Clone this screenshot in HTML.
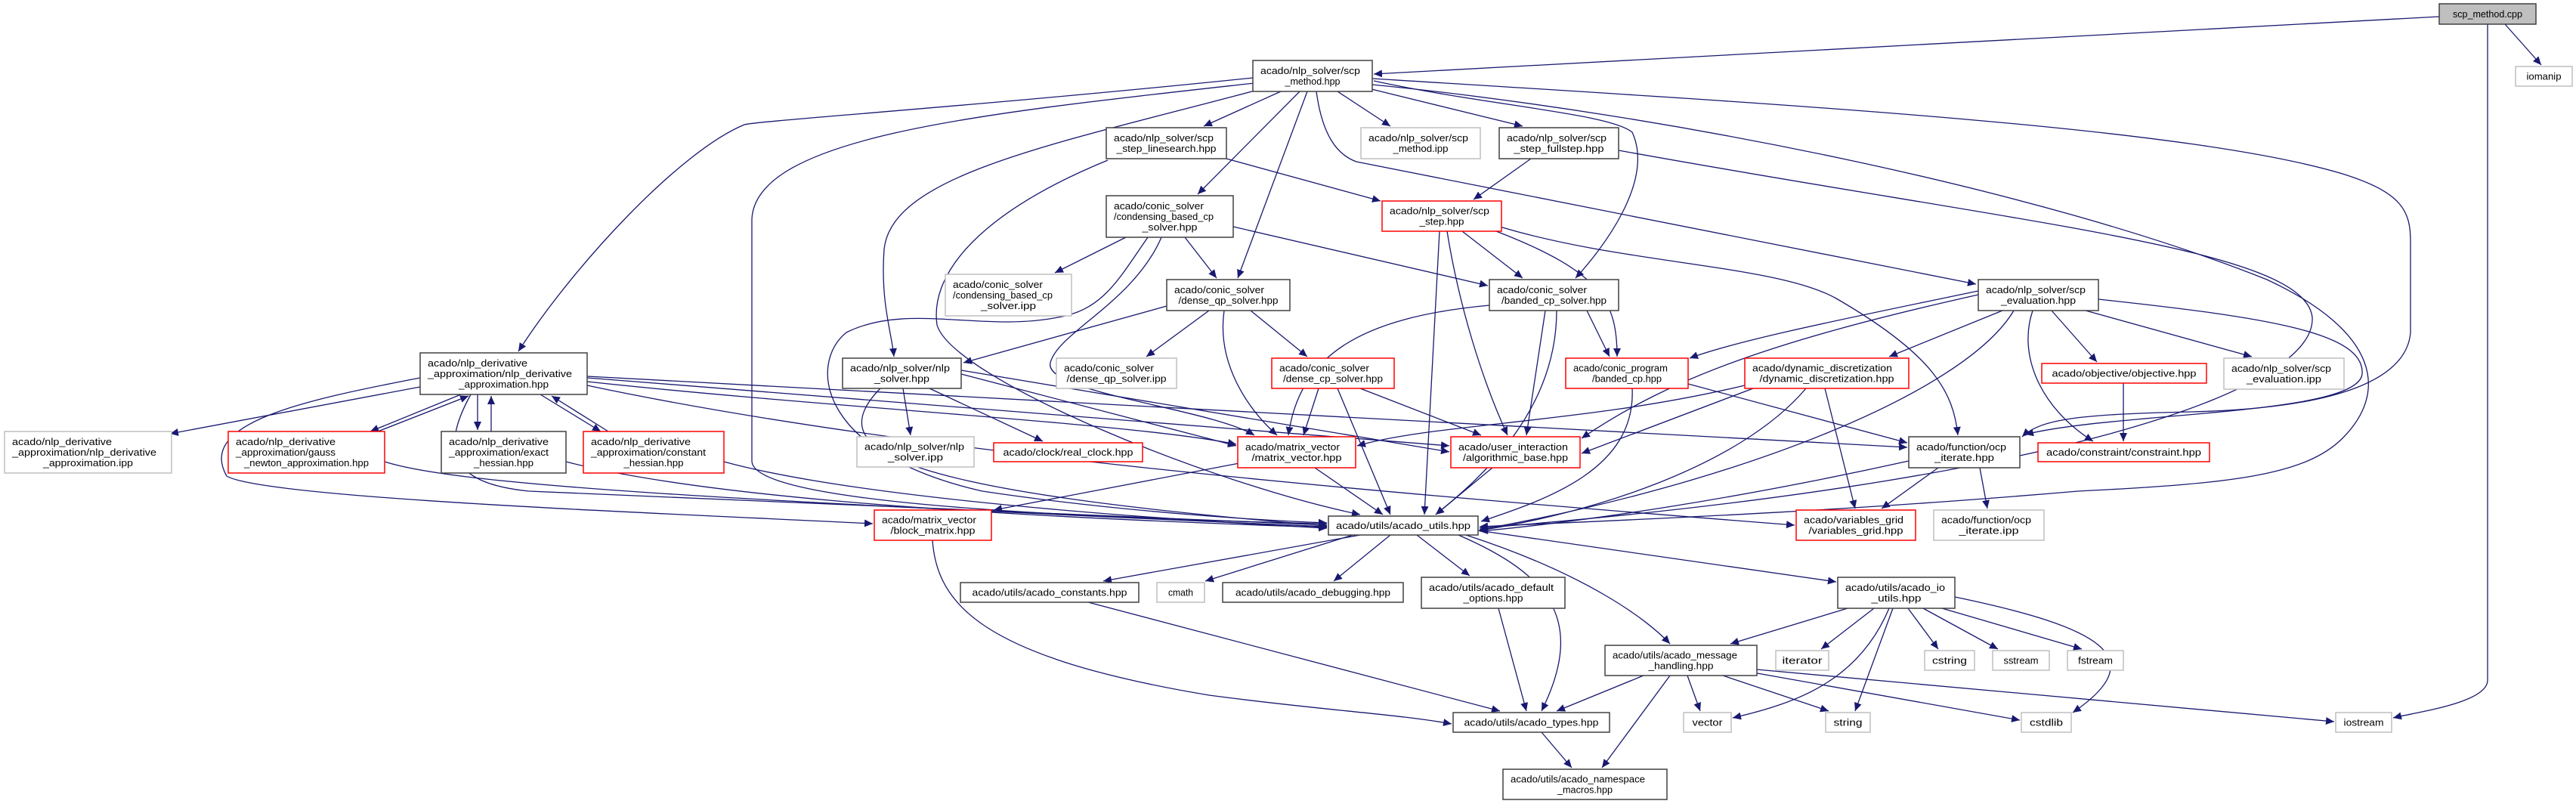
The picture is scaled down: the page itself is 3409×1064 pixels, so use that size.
<!DOCTYPE html>
<html><head><meta charset="utf-8"><style>
html,body{margin:0;padding:0;background:#fff;}
svg{display:block;}
text{font-family:"Liberation Sans",sans-serif;font-size:13px;fill:#000;}
.n{fill:#fff;stroke:#404040;stroke-width:1.5;}
.r{fill:#fff;stroke:#ff0000;stroke-width:1.5;}
.g{fill:#fff;stroke:#bfbfbf;stroke-width:1.5;}
.e{fill:none;stroke:#191970;stroke-width:1.3;}
</style></head><body>
<svg width="3409" height="1064" viewBox="0 0 3409 1064" xmlns="http://www.w3.org/2000/svg">
<defs><marker id="a" markerWidth="12" markerHeight="10" refX="11" refY="5" orient="auto" markerUnits="userSpaceOnUse"><path d="M0,0 L11,5 L0,10 z" fill="#191970"/></marker></defs>
<g marker-end="url(#a)">
<path class="e" d="M3228,22 L1818,98"/>
<path class="e" d="M3315,32 L3363,86"/>
<path class="e" d="M3292,32 L3292,900 C3292,930 3200,942 3167,950"/>
<path class="e" d="M1695,121 L1593,167"/>
<path class="e" d="M1770,121 L1840,167"/>
<path class="e" d="M1815,118 L2015,167"/>
<path class="e" d="M1720,121 L1585,257"/>
<path class="e" d="M1730,121 L1638,368"/>
<path class="e" d="M1818,107 C1970,140 2130,150 2160,175 C2190,240 2120,330 2085,368"/>
<path class="e" d="M1742,121 C1750,180 1770,205 1795,214 L2615,376"/>
<path class="e" d="M1658,103 C1300,140 1000,160 985,165 C900,200 760,350 686,465"/>
<path class="e" d="M1660,110 C1300,150 1000,180 995,290 L995,610 C995,650 1200,680 1756,693"/>
<path class="e" d="M1668,118 C1400,190 1180,230 1170,330 C1165,400 1180,440 1183,472"/>
<path class="e" d="M1816,104 C2400,140 2900,170 3100,230 C3180,255 3190,280 3190,320 L3190,440 C3185,500 3100,540 2900,545 C2750,548 2700,555 2676,578"/>
<path class="e" d="M2777,396 C3000,420 3130,440 3126,495 C3120,550 2800,545 2680,575"/>
<path class="e" d="M1816,112 C2200,150 2700,250 3000,370 C3150,440 3160,520 3100,580 C3050,630 2950,640 2750,650 C2400,680 2100,690 1958,697"/>
<path class="e" d="M2026,210 L1950,264"/>
<path class="e" d="M2142,199 C2700,300 3050,330 3060,420 C3065,520 2700,640 1958,699"/>
<path class="e" d="M1623,210 L1827,266"/>
<path class="e" d="M1466,212 C1300,280 1230,360 1240,430 C1260,500 1600,640 1800,681"/>
<path class="e" d="M1490,314 L1396,361"/>
<path class="e" d="M1568,314 L1610,368"/>
<path class="e" d="M1632,300 L1969,378"/>
<path class="e" d="M1537,314 C1500,400 1400,440 1390,480 C1380,520 1600,540 1660,576"/>
<path class="e" d="M1519,314 C1480,370 1460,410 1400,420 C1300,440 1200,400 1120,440 C1070,480 1080,600 1300,650 C1500,680 1700,690 1756,692"/>
<path class="e" d="M1935,306 L2015,368"/>
<path class="e" d="M1980,306 C2120,360 2140,400 2140,472"/>
<path class="e" d="M1985,300 C2150,350 2350,350 2430,395 C2560,470 2585,520 2591,576"/>
<path class="e" d="M1905,306 L1885,681"/>
<path class="e" d="M1915,306 C1930,400 1960,500 1995,576"/>
<path class="e" d="M1600,411 L1517,472"/>
<path class="e" d="M1655,411 L1730,472"/>
<path class="e" d="M1620,411 C1610,480 1650,540 1690,576"/>
<path class="e" d="M1544,405 L1275,480"/>
<path class="e" d="M1971,404 C1800,420 1720,470 1705,576"/>
<path class="e" d="M2045,411 L2020,576"/>
<path class="e" d="M2060,411 C2060,550 1950,640 1900,681"/>
<path class="e" d="M2100,411 L2130,472"/>
<path class="e" d="M2618,385 C2450,420 2300,450 2236,474"/>
<path class="e" d="M2650,411 L2500,472"/>
<path class="e" d="M2715,411 L2775,479"/>
<path class="e" d="M2760,411 L2980,472"/>
<path class="e" d="M2690,411 C2670,470 2700,540 2770,584"/>
<path class="e" d="M2665,411 C2600,520 2300,640 1958,701"/>
<path class="e" d="M2618,390 C2350,450 2210,500 2093,580"/>
<path class="e" d="M1745,514 L1725,576"/>
<path class="e" d="M1770,514 L1840,681"/>
<path class="e" d="M1800,514 L1960,576"/>
<path class="e" d="M2234,508 L2524,586"/>
<path class="e" d="M2160,514 C2165,620 2050,660 1960,690"/>
<path class="e" d="M2309,510 C2100,560 1900,560 1796,590"/>
<path class="e" d="M2320,514 L2093,600"/>
<path class="e" d="M2415,514 L2455,673"/>
<path class="e" d="M2390,514 C2300,620 2100,680 1958,702"/>
<path class="e" d="M2810,507 L2810,584"/>
<path class="e" d="M2565,619 L2490,673"/>
<path class="e" d="M2620,619 L2630,673"/>
<path class="e" d="M2526,610 C2300,660 2100,690 1958,703"/>
<path class="e" d="M556,512 L225,574"/>
<path class="e" d="M610,522 L490,571"/>
<path class="e" d="M500,571 L620,524"/>
<path class="e" d="M632,522 L632,569"/>
<path class="e" d="M650,571 L650,524"/>
<path class="e" d="M715,522 L795,571"/>
<path class="e" d="M805,571 L730,524"/>
<path class="e" d="M777,505 C1100,540 1500,560 1636,588"/>
<path class="e" d="M777,500 L1918,590"/>
<path class="e" d="M777,498 L2524,592"/>
<path class="e" d="M623,522 C580,600 600,640 700,650 L1756,695"/>
<path class="e" d="M556,500 C400,530 260,560 300,630 C350,660 900,680 1155,693"/>
<path class="e" d="M777,510 C1200,600 1800,650 2375,695"/>
<path class="e" d="M509,611 C600,640 900,660 1756,697"/>
<path class="e" d="M749,611 C900,650 1200,680 1756,698"/>
<path class="e" d="M958,611 C1100,650 1400,680 1756,699"/>
<path class="e" d="M1195,514 L1205,576"/>
<path class="e" d="M1230,514 L1380,584"/>
<path class="e" d="M1272,495 L1636,590"/>
<path class="e" d="M1272,490 L1918,598"/>
<path class="e" d="M1165,514 C1080,600 1200,650 1756,696"/>
<path class="e" d="M1640,613 L1315,675"/>
<path class="e" d="M1740,619 L1830,681"/>
<path class="e" d="M1975,619 L1900,681"/>
<path class="e" d="M1234,715 C1240,800 1300,870 1600,920 C1750,940 1850,945 1921,958"/>
<path class="e" d="M1800,708 L1460,769"/>
<path class="e" d="M1790,708 L1595,769"/>
<path class="e" d="M1840,708 L1765,769"/>
<path class="e" d="M1875,708 L1945,762"/>
<path class="e" d="M1930,708 C2050,760 2100,820 2040,941"/>
<path class="e" d="M1940,708 C2100,760 2180,820 2210,852"/>
<path class="e" d="M1956,702 L2430,770"/>
<path class="e" d="M1440,797 L1985,941"/>
<path class="e" d="M1983,805 L2020,941"/>
<path class="e" d="M2175,894 L2060,941"/>
<path class="e" d="M2210,894 L2120,1016"/>
<path class="e" d="M2040,969 L2080,1016"/>
<path class="e" d="M2233,894 L2250,941"/>
<path class="e" d="M2280,894 L2420,941"/>
<path class="e" d="M2320,890 L2673,953"/>
<path class="e" d="M2325,886 L3089,955"/>
<path class="e" d="M2445,805 L2290,852"/>
<path class="e" d="M2480,805 L2410,859"/>
<path class="e" d="M2500,805 C2460,900 2380,930 2293,950"/>
<path class="e" d="M2505,805 L2455,941"/>
<path class="e" d="M2525,805 L2565,859"/>
<path class="e" d="M2545,805 L2644,859"/>
<path class="e" d="M2570,805 L2755,859"/>
<path class="e" d="M2587,790 C2780,830 2850,870 2743,943"/>
</g>
<g lengthAdjust="spacingAndGlyphs">
<rect x="3228" y="5" width="128" height="27" style="fill:#bfbfbf;stroke:#404040;stroke-width:1.5"/>
<text x="3292" y="23" text-anchor="middle" textLength="92" lengthAdjust="spacingAndGlyphs">scp_method.cpp</text>
<rect class="g" x="3329" y="88" width="75" height="26"/>
<text x="3366.5" y="105.5" text-anchor="middle" textLength="46" lengthAdjust="spacingAndGlyphs">iomanip</text>

<rect class="n" x="1658" y="80" width="158" height="41"/>
<text x="1668" y="98" textLength="132" lengthAdjust="spacingAndGlyphs">acado/nlp_solver/scp</text>
<text x="1737" y="112" text-anchor="middle" textLength="73" lengthAdjust="spacingAndGlyphs">_method.hpp</text>

<rect class="n" x="1464" y="169" width="159" height="41"/>
<text x="1474" y="187" textLength="132" lengthAdjust="spacingAndGlyphs">acado/nlp_solver/scp</text>
<text x="1543.5" y="201" text-anchor="middle" textLength="132" lengthAdjust="spacingAndGlyphs">_step_linesearch.hpp</text>

<rect class="g" x="1801" y="169" width="158" height="41"/>
<text x="1811" y="187" textLength="132" lengthAdjust="spacingAndGlyphs">acado/nlp_solver/scp</text>
<text x="1880" y="201" text-anchor="middle" textLength="73" lengthAdjust="spacingAndGlyphs">_method.ipp</text>

<rect class="n" x="1984" y="169" width="158" height="41"/>
<text x="1994" y="187" textLength="132" lengthAdjust="spacingAndGlyphs">acado/nlp_solver/scp</text>
<text x="2063" y="201" text-anchor="middle" textLength="119" lengthAdjust="spacingAndGlyphs">_step_fullstep.hpp</text>

<rect class="n" x="1464" y="259" width="168" height="55"/>
<text x="1474" y="277" textLength="119" lengthAdjust="spacingAndGlyphs">acado/conic_solver</text>
<text x="1474" y="291" textLength="132" lengthAdjust="spacingAndGlyphs">/condensing_based_cp</text>
<text x="1548" y="305" text-anchor="middle" textLength="73" lengthAdjust="spacingAndGlyphs">_solver.hpp</text>

<rect class="r" x="1829" y="266" width="158" height="40"/>
<text x="1839" y="283.5" textLength="132" lengthAdjust="spacingAndGlyphs">acado/nlp_solver/scp</text>
<text x="1908" y="297.5" text-anchor="middle" textLength="59" lengthAdjust="spacingAndGlyphs">_step.hpp</text>

<rect class="g" x="1251" y="363" width="167" height="55"/>
<text x="1261" y="381" textLength="119" lengthAdjust="spacingAndGlyphs">acado/conic_solver</text>
<text x="1261" y="395" textLength="132" lengthAdjust="spacingAndGlyphs">/condensing_based_cp</text>
<text x="1334.5" y="409" text-anchor="middle" textLength="73" lengthAdjust="spacingAndGlyphs">_solver.ipp</text>

<rect class="n" x="1544" y="370" width="163" height="41"/>
<text x="1554" y="388" textLength="119" lengthAdjust="spacingAndGlyphs">acado/conic_solver</text>
<text x="1625.5" y="402" text-anchor="middle" textLength="132" lengthAdjust="spacingAndGlyphs">/dense_qp_solver.hpp</text>

<rect class="n" x="1971" y="370" width="171" height="41"/>
<text x="1981" y="388" textLength="119" lengthAdjust="spacingAndGlyphs">acado/conic_solver</text>
<text x="2056.5" y="402" text-anchor="middle" textLength="139" lengthAdjust="spacingAndGlyphs">/banded_cp_solver.hpp</text>

<rect class="n" x="2618" y="370" width="159" height="41"/>
<text x="2628" y="388" textLength="132" lengthAdjust="spacingAndGlyphs">acado/nlp_solver/scp</text>
<text x="2697.5" y="402" text-anchor="middle" textLength="99" lengthAdjust="spacingAndGlyphs">_evaluation.hpp</text>

<rect class="n" x="556" y="467" width="221" height="55"/>
<text x="566" y="485" textLength="132" lengthAdjust="spacingAndGlyphs">acado/nlp_derivative</text>
<text x="566" y="499" textLength="191" lengthAdjust="spacingAndGlyphs">_approximation/nlp_derivative</text>
<text x="666.5" y="513" text-anchor="middle" textLength="119" lengthAdjust="spacingAndGlyphs">_approximation.hpp</text>

<rect class="n" x="1115" y="474" width="157" height="40"/>
<text x="1125" y="491.5" textLength="132" lengthAdjust="spacingAndGlyphs">acado/nlp_solver/nlp</text>
<text x="1193.5" y="505.5" text-anchor="middle" textLength="73" lengthAdjust="spacingAndGlyphs">_solver.hpp</text>

<rect class="g" x="1398" y="474" width="159" height="40"/>
<text x="1408" y="491.5" textLength="119" lengthAdjust="spacingAndGlyphs">acado/conic_solver</text>
<text x="1477.5" y="505.5" text-anchor="middle" textLength="132" lengthAdjust="spacingAndGlyphs">/dense_qp_solver.ipp</text>

<rect class="r" x="1683" y="474" width="162" height="40"/>
<text x="1693" y="491.5" textLength="119" lengthAdjust="spacingAndGlyphs">acado/conic_solver</text>
<text x="1764" y="505.5" text-anchor="middle" textLength="132" lengthAdjust="spacingAndGlyphs">/dense_cp_solver.hpp</text>

<rect class="r" x="2072" y="474" width="162" height="40"/>
<text x="2082" y="491.5" textLength="125" lengthAdjust="spacingAndGlyphs">acado/conic_program</text>
<text x="2153" y="505.5" text-anchor="middle" textLength="92" lengthAdjust="spacingAndGlyphs">/banded_cp.hpp</text>

<rect class="r" x="2309" y="474" width="217" height="40"/>
<text x="2319" y="491.5" textLength="185" lengthAdjust="spacingAndGlyphs">acado/dynamic_discretization</text>
<text x="2417.5" y="505.5" text-anchor="middle" textLength="178" lengthAdjust="spacingAndGlyphs">/dynamic_discretization.hpp</text>

<rect class="r" x="2702" y="481" width="218" height="26"/>
<text x="2811" y="498.5" text-anchor="middle" textLength="191" lengthAdjust="spacingAndGlyphs">acado/objective/objective.hpp</text>

<rect class="g" x="2943" y="474" width="159" height="41"/>
<text x="2953" y="492" textLength="132" lengthAdjust="spacingAndGlyphs">acado/nlp_solver/scp</text>
<text x="3022.5" y="506" text-anchor="middle" textLength="99" lengthAdjust="spacingAndGlyphs">_evaluation.ipp</text>

<rect class="g" x="6" y="571" width="221" height="55"/>
<text x="16" y="589" textLength="132" lengthAdjust="spacingAndGlyphs">acado/nlp_derivative</text>
<text x="16" y="603" textLength="191" lengthAdjust="spacingAndGlyphs">_approximation/nlp_derivative</text>
<text x="116.5" y="617" text-anchor="middle" textLength="119" lengthAdjust="spacingAndGlyphs">_approximation.ipp</text>

<rect class="r" x="302" y="571" width="207" height="55"/>
<text x="312" y="589" textLength="132" lengthAdjust="spacingAndGlyphs">acado/nlp_derivative</text>
<text x="312" y="603" textLength="132" lengthAdjust="spacingAndGlyphs">_approximation/gauss</text>
<text x="405.5" y="617" text-anchor="middle" textLength="165" lengthAdjust="spacingAndGlyphs">_newton_approximation.hpp</text>

<rect class="n" x="584" y="571" width="165" height="55"/>
<text x="594" y="589" textLength="132" lengthAdjust="spacingAndGlyphs">acado/nlp_derivative</text>
<text x="594" y="603" textLength="132" lengthAdjust="spacingAndGlyphs">_approximation/exact</text>
<text x="666.5" y="617" text-anchor="middle" textLength="79" lengthAdjust="spacingAndGlyphs">_hessian.hpp</text>

<rect class="r" x="772" y="571" width="186" height="55"/>
<text x="782" y="589" textLength="132" lengthAdjust="spacingAndGlyphs">acado/nlp_derivative</text>
<text x="782" y="603" textLength="152" lengthAdjust="spacingAndGlyphs">_approximation/constant</text>
<text x="865" y="617" text-anchor="middle" textLength="79" lengthAdjust="spacingAndGlyphs">_hessian.hpp</text>

<rect class="g" x="1134" y="578" width="155" height="40"/>
<text x="1144" y="595.5" textLength="132" lengthAdjust="spacingAndGlyphs">acado/nlp_solver/nlp</text>
<text x="1211.5" y="609.5" text-anchor="middle" textLength="73" lengthAdjust="spacingAndGlyphs">_solver.ipp</text>

<rect class="r" x="1315" y="586" width="197" height="25"/>
<text x="1413.5" y="603" text-anchor="middle" textLength="172" lengthAdjust="spacingAndGlyphs">acado/clock/real_clock.hpp</text>

<rect class="r" x="1638" y="578" width="156" height="41"/>
<text x="1648" y="596" textLength="125" lengthAdjust="spacingAndGlyphs">acado/matrix_vector</text>
<text x="1716" y="610" text-anchor="middle" textLength="119" lengthAdjust="spacingAndGlyphs">/matrix_vector.hpp</text>

<rect class="r" x="1920" y="578" width="171" height="41"/>
<text x="1930" y="596" textLength="145" lengthAdjust="spacingAndGlyphs">acado/user_interaction</text>
<text x="2005.5" y="610" text-anchor="middle" textLength="139" lengthAdjust="spacingAndGlyphs">/algorithmic_base.hpp</text>

<rect class="n" x="2526" y="578" width="147" height="41"/>
<text x="2536" y="596" textLength="119" lengthAdjust="spacingAndGlyphs">acado/function/ocp</text>
<text x="2599.5" y="610" text-anchor="middle" textLength="79" lengthAdjust="spacingAndGlyphs">_iterate.hpp</text>

<rect class="r" x="2697" y="586" width="227" height="25"/>
<text x="2810.5" y="603" text-anchor="middle" textLength="205" lengthAdjust="spacingAndGlyphs">acado/constraint/constraint.hpp</text>

<rect class="r" x="1157" y="675" width="155" height="40"/>
<text x="1167" y="692.5" textLength="125" lengthAdjust="spacingAndGlyphs">acado/matrix_vector</text>
<text x="1234.5" y="706.5" text-anchor="middle" textLength="112" lengthAdjust="spacingAndGlyphs">/block_matrix.hpp</text>

<rect class="n" x="1758" y="683" width="198" height="25"/>
<text x="1857" y="700" text-anchor="middle" textLength="178" lengthAdjust="spacingAndGlyphs">acado/utils/acado_utils.hpp</text>

<rect class="r" x="2377" y="675" width="158" height="40"/>
<text x="2387" y="692.5" textLength="132" lengthAdjust="spacingAndGlyphs">acado/variables_grid</text>
<text x="2456" y="706.5" text-anchor="middle" textLength="125" lengthAdjust="spacingAndGlyphs">/variables_grid.hpp</text>

<rect class="g" x="2559" y="675" width="146" height="40"/>
<text x="2569" y="692.5" textLength="119" lengthAdjust="spacingAndGlyphs">acado/function/ocp</text>
<text x="2632" y="706.5" text-anchor="middle" textLength="79" lengthAdjust="spacingAndGlyphs">_iterate.ipp</text>

<rect class="n" x="1271" y="771" width="236" height="26"/>
<text x="1389" y="788.5" text-anchor="middle" textLength="205" lengthAdjust="spacingAndGlyphs">acado/utils/acado_constants.hpp</text>
<rect class="g" x="1531" y="771" width="63" height="26"/>
<text x="1562.5" y="788.5" text-anchor="middle" textLength="33" lengthAdjust="spacingAndGlyphs">cmath</text>
<rect class="n" x="1618" y="771" width="239" height="26"/>
<text x="1737.5" y="788.5" text-anchor="middle" textLength="205" lengthAdjust="spacingAndGlyphs">acado/utils/acado_debugging.hpp</text>

<rect class="n" x="1881" y="764" width="190" height="41"/>
<text x="1891" y="782" textLength="165" lengthAdjust="spacingAndGlyphs">acado/utils/acado_default</text>
<text x="1976" y="796" text-anchor="middle" textLength="79" lengthAdjust="spacingAndGlyphs">_options.hpp</text>

<rect class="n" x="2432" y="764" width="155" height="41"/>
<text x="2442" y="782" textLength="132" lengthAdjust="spacingAndGlyphs">acado/utils/acado_io</text>
<text x="2509.5" y="796" text-anchor="middle" textLength="66" lengthAdjust="spacingAndGlyphs">_utils.hpp</text>

<rect class="n" x="2124" y="854" width="201" height="40"/>
<text x="2134" y="871.5" textLength="165" lengthAdjust="spacingAndGlyphs">acado/utils/acado_message</text>
<text x="2224.5" y="885.5" text-anchor="middle" textLength="86" lengthAdjust="spacingAndGlyphs">_handling.hpp</text>

<rect class="g" x="2350" y="861" width="70" height="26"/>
<text x="2385" y="878.5" text-anchor="middle" textLength="53" lengthAdjust="spacingAndGlyphs">iterator</text>
<rect class="g" x="2547" y="861" width="66" height="26"/>
<text x="2580" y="878.5" text-anchor="middle" textLength="46" lengthAdjust="spacingAndGlyphs">cstring</text>
<rect class="g" x="2637" y="861" width="75" height="26"/>
<text x="2674.5" y="878.5" text-anchor="middle" textLength="46" lengthAdjust="spacingAndGlyphs">sstream</text>
<rect class="g" x="2736" y="861" width="74" height="26"/>
<text x="2773" y="878.5" text-anchor="middle" textLength="46" lengthAdjust="spacingAndGlyphs">fstream</text>

<rect class="g" x="2228" y="943" width="63" height="26"/>
<text x="2259.5" y="960.5" text-anchor="middle" textLength="40" lengthAdjust="spacingAndGlyphs">vector</text>
<rect class="g" x="2416" y="943" width="59" height="26"/>
<text x="2445.5" y="960.5" text-anchor="middle" textLength="38" lengthAdjust="spacingAndGlyphs">string</text>
<rect class="g" x="2675" y="943" width="66" height="26"/>
<text x="2708" y="960.5" text-anchor="middle" textLength="44" lengthAdjust="spacingAndGlyphs">cstdlib</text>
<rect class="g" x="3091" y="943" width="74" height="26"/>
<text x="3128" y="960.5" text-anchor="middle" textLength="53" lengthAdjust="spacingAndGlyphs">iostream</text>

<rect class="n" x="1923" y="943" width="207" height="26"/>
<text x="2026.5" y="960.5" text-anchor="middle" textLength="178" lengthAdjust="spacingAndGlyphs">acado/utils/acado_types.hpp</text>

<rect class="n" x="1989" y="1018" width="217" height="40"/>
<text x="1999" y="1035.5" textLength="178" lengthAdjust="spacingAndGlyphs">acado/utils/acado_namespace</text>
<text x="2097.5" y="1049.5" text-anchor="middle" textLength="73" lengthAdjust="spacingAndGlyphs">_macros.hpp</text>
</g>
</svg>
</body></html>
